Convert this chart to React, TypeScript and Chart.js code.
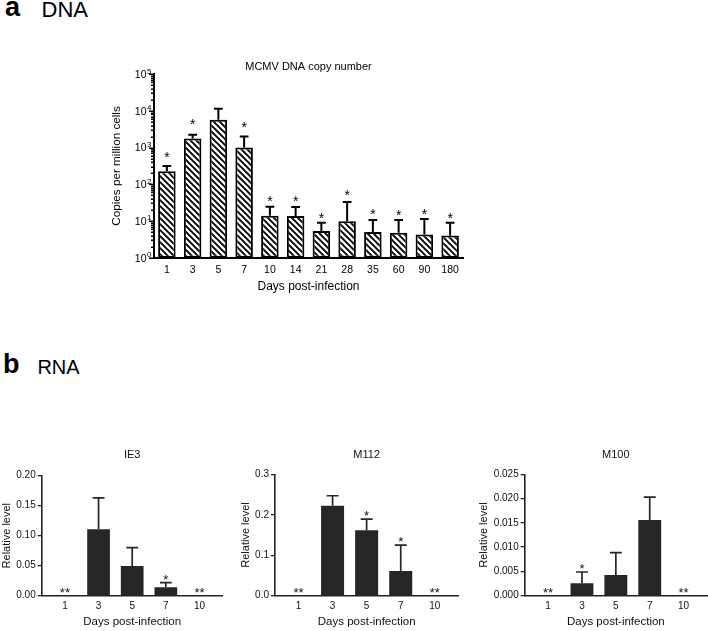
import React, { useEffect, useRef } from 'react';
import { Chart, registerables } from 'chart.js';

Chart.register(...registerables);

const FONT = '"Liberation Sans", Arial, Helvetica, sans-serif';

// ---------- Panel a: DNA ----------
const dnaTitle = 'MCMV DNA copy number';
const dnaDays = ['1', '3', '5', '7', '10', '14', '21', '28', '35', '60', '90', '180'];
const dnaMean = [227, 1760, 5750, 1000, 13.8, 13.6, 5.3, 9.8, 5.0, 4.8, 4.3, 4.0];
const dnaErrTop = [316, 2250, 11500, 2000, 24.3, 24, 8.9, 33, 10.6, 10.6, 11.3, 8.9];
const dnaStars = ['*', '*', '', '*', '*', '*', '*', '*', '*', '*', '*', '*'];
const dnaStarLevel = [687, 5280, 0, 4490, 41, 41, 14.5, 62, 18.6, 17.8, 18.6, 14.5];
const dnaYTicks = [1, 10, 100, 1000, 10000, 100000];
const dnaYTickBase = '10';
const dnaYTickExp = ['0', '1', '2', '3', '4', '5'];

// ---------- Panel b: RNA ----------
const rnaDays = ['1', '3', '5', '7', '10'];

const ie3Mean = [0, 0.1107, 0.0495, 0.014, 0];
const ie3ErrTop = [0, 0.163, 0.08, 0.0217, 0];
const ie3Stars = ['**', '', '', '*', '**'];
const ie3Ticks = [0, 0.05, 0.1, 0.15, 0.2];
const ie3TickLabels = ['0.00', '0.05', '0.10', '0.15', '0.20'];

const m112Mean = [0, 0.222, 0.1615, 0.061, 0];
const m112ErrTop = [0, 0.247, 0.189, 0.125, 0];
const m112Stars = ['**', '', '*', '*', '**'];
const m112Ticks = [0, 0.1, 0.2, 0.3];
const m112TickLabels = ['0.0', '0.1', '0.2', '0.3'];

const m100Mean = [0, 0.00255, 0.00426, 0.0156, 0];
const m100ErrTop = [0, 0.00488, 0.00886, 0.0203, 0];
const m100Stars = ['**', '*', '', '', '**'];
const m100Ticks = [0, 0.005, 0.01, 0.015, 0.02, 0.025];
const m100TickLabels = ['0.000', '0.005', '0.010', '0.015', '0.020', '0.025'];

function makePattern(): CanvasPattern | string {
  const s = 6;
  const c = document.createElement('canvas');
  c.width = s;
  c.height = s;
  const g = c.getContext('2d');
  if (!g) return '#fff';
  g.fillStyle = '#fff';
  g.fillRect(0, 0, s, s);
  g.strokeStyle = '#000';
  g.lineWidth = 1.9;
  g.beginPath();
  g.moveTo(-1, -1);
  g.lineTo(s + 1, s + 1);
  g.moveTo(-1, s - 1);
  g.lineTo(1, s + 1);
  g.moveTo(s - 1, -1);
  g.lineTo(s + 1, 1);
  g.stroke();
  const p = g.createPattern(c, 'repeat');
  return p || '#fff';
}

function makeDna(canvas: HTMLCanvasElement) {
  const decor = {
    id: 'dnaDecor',
    afterDatasetsDraw(chart: any) {
      const ctx = chart.ctx as CanvasRenderingContext2D;
      const y = chart.scales.y;
      const meta = chart.getDatasetMeta(0);
      ctx.save();
      ctx.strokeStyle = '#000';
      ctx.lineWidth = 2;
      meta.data.forEach((bar: any, i: number) => {
        const cx = bar.x;
        const w = bar.width;
        const yTop = y.getPixelForValue(dnaErrTop[i]);
        ctx.beginPath();
        ctx.moveTo(cx, bar.y);
        ctx.lineTo(cx, yTop);
        ctx.moveTo(cx - w * 0.25, yTop);
        ctx.lineTo(cx + w * 0.25, yTop);
        ctx.stroke();
        if (dnaStars[i]) {
          const fs = 14;
          ctx.fillStyle = '#000';
          ctx.font = `${fs}px ${FONT}`;
          ctx.textAlign = 'center';
          ctx.textBaseline = 'alphabetic';
          ctx.fillText(dnaStars[i], cx, y.getPixelForValue(dnaStarLevel[i]) + 0.57 * fs);
        }
      });
      ctx.restore();
    },
    afterDraw(chart: any) {
      const ctx = chart.ctx as CanvasRenderingContext2D;
      const y = chart.scales.y;
      const area = chart.chartArea;
      ctx.save();
      // major and minor tick marks on the log axis
      ctx.strokeStyle = '#000';
      ctx.lineWidth = 1.5;
      for (let e = 0; e < dnaYTicks.length; e++) {
        const base = dnaYTicks[e];
        const steps = e === dnaYTicks.length - 1 ? 1 : 9;
        for (let m = 1; m <= steps; m++) {
          const py = Math.round(y.getPixelForValue(base * m)) + 0.25;
          const len = m === 1 ? 4 : 2;
          ctx.beginPath();
          ctx.moveTo(area.left - len - 1, py);
          ctx.lineTo(area.left, py);
          ctx.stroke();
        }
      }
      // tick labels 10 with superscript exponents
      ctx.fillStyle = '#000';
      ctx.textBaseline = 'alphabetic';
      ctx.textAlign = 'left';
      const right = area.left - 2.5;
      dnaYTicks.forEach((v, i) => {
        const py = y.getPixelForValue(v);
        ctx.font = `8px ${FONT}`;
        const ew = ctx.measureText(dnaYTickExp[i]).width;
        ctx.font = `10.5px ${FONT}`;
        const bw = ctx.measureText(dnaYTickBase).width;
        const x0 = right - ew - 0.5 - bw;
        ctx.fillText(dnaYTickBase, x0, py + 3.8);
        ctx.font = `8px ${FONT}`;
        ctx.fillText(dnaYTickExp[i], x0 + bw + 0.5, py - 0.6);
      });
      // chart title
      ctx.font = `11px ${FONT}`;
      ctx.textAlign = 'center';
      ctx.textBaseline = 'middle';
      ctx.fillText(dnaTitle, (area.left + area.right) / 2, 26.7);
      ctx.restore();
    },
  };

  return new Chart(canvas, {
    type: 'bar',
    data: {
      labels: dnaDays,
      datasets: [
        {
          data: dnaMean,
          backgroundColor: makePattern() as any,
          borderColor: '#000',
          borderWidth: 2,
          borderSkipped: false,
          barPercentage: 0.68,
          categoryPercentage: 1,
        },
      ],
    },
    options: {
      animation: false,
      responsive: false,
      devicePixelRatio: 1,
      layout: { padding: { left: 0, right: 37, top: 34.2, bottom: 0 } },
      plugins: { legend: { display: false }, tooltip: { enabled: false }, title: { display: false } },
      scales: {
        x: {
          type: 'category',
          offset: true,
          grid: { display: false, drawTicks: false },
          border: { display: true, color: '#000', width: 2 },
          ticks: {
            color: '#000',
            font: { family: FONT, size: 10.5 },
            padding: 6,
            autoSkip: false,
            maxRotation: 0,
          },
          title: {
            display: true,
            text: 'Days post-infection',
            color: '#000',
            font: { family: FONT, size: 12 },
            padding: { top: 0, bottom: 16.5 },
          },
          afterFit: (s: any) => {
            s.height = 52.3;
          },
        },
        y: {
          type: 'logarithmic',
          min: 1,
          max: 100000,
          grid: { display: false, drawTicks: false },
          border: { display: true, color: '#000', width: 2 },
          afterBuildTicks: (s: any) => {
            s.ticks = dnaYTicks.map((v) => ({ value: v, major: true }));
          },
          ticks: { display: false },
          title: {
            display: true,
            text: 'Copies per million cells',
            color: '#000',
            font: { family: FONT, size: 11.7 },
            padding: { top: 109.7, bottom: 0 },
          },
          afterFit: (s: any) => {
            s.width = 154;
          },
        },
      },
    },
    plugins: [decor as any],
  });
}

interface RnaCfg {
  title: string;
  mean: number[];
  errTop: number[];
  stars: string[];
  ticks: number[];
  tickLabels: string[];
  axisLeft: number;
  padRight: number;
  padTop: number;
  yTitlePad: number;
}

function makeRna(canvas: HTMLCanvasElement, cfg: RnaCfg) {
  const barColor = '#262626';
  const decor = {
    id: 'rnaDecor',
    afterDatasetsDraw(chart: any) {
      const ctx = chart.ctx as CanvasRenderingContext2D;
      const y = chart.scales.y;
      const meta = chart.getDatasetMeta(0);
      ctx.save();
      ctx.strokeStyle = barColor;
      ctx.lineWidth = 1.7;
      meta.data.forEach((bar: any, i: number) => {
        const cx = bar.x;
        const w = bar.width;
        const yTop = y.getPixelForValue(cfg.errTop[i]);
        if (cfg.errTop[i] > cfg.mean[i]) {
          ctx.beginPath();
          ctx.moveTo(cx, bar.y);
          ctx.lineTo(cx, yTop);
          ctx.moveTo(cx - w * 0.26, yTop);
          ctx.lineTo(cx + w * 0.26, yTop);
          ctx.stroke();
        }
        if (cfg.stars[i]) {
          const fs = 13;
          ctx.fillStyle = '#111';
          ctx.font = `${fs}px ${FONT}`;
          ctx.textAlign = 'center';
          ctx.textBaseline = 'alphabetic';
          ctx.fillText(cfg.stars[i], cx, yTop + 1);
        }
      });
      ctx.restore();
    },
    afterDraw(chart: any) {
      const ctx = chart.ctx as CanvasRenderingContext2D;
      const area = chart.chartArea;
      ctx.save();
      ctx.fillStyle = '#111';
      ctx.font = `11px ${FONT}`;
      ctx.textAlign = 'center';
      ctx.textBaseline = 'middle';
      ctx.fillText(cfg.title, (area.left + area.right) / 2, 15);
      ctx.restore();
    },
  };

  const margin = 0.69;
  return new Chart(canvas, {
    type: 'bar',
    data: {
      datasets: [
        {
          data: cfg.mean.map((v, i) => ({ x: i, y: v })),
          backgroundColor: barColor,
          borderWidth: 0,
          barPercentage: 0.675,
          categoryPercentage: 1,
        },
      ],
    },
    options: {
      animation: false,
      responsive: false,
      devicePixelRatio: 1,
      layout: { padding: { left: 0, right: cfg.padRight, top: cfg.padTop, bottom: 0 } },
      plugins: { legend: { display: false }, tooltip: { enabled: false }, title: { display: false } },
      scales: {
        x: {
          type: 'linear',
          min: -margin,
          max: rnaDays.length - 1 + margin,
          offset: false,
          grid: { display: false, drawTicks: false },
          border: { display: true, color: '#222', width: 1.6 },
          afterBuildTicks: (s: any) => {
            s.ticks = rnaDays.map((_d, i) => ({ value: i }));
          },
          ticks: {
            color: '#111',
            font: { family: FONT, size: 10 },
            padding: 4.8,
            autoSkip: false,
            maxRotation: 0,
            callback: (_v: any, i: number) => rnaDays[i],
          },
          title: {
            display: true,
            text: 'Days post-infection',
            color: '#111',
            font: { family: FONT, size: 11.5 },
            padding: { top: 0, bottom: 1.8 },
          },
          afterFit: (s: any) => {
            s.height = 35.3;
          },
        },
        y: {
          type: 'linear',
          min: 0,
          max: cfg.ticks[cfg.ticks.length - 1],
          grid: {
            display: true,
            drawOnChartArea: false,
            drawTicks: true,
            tickLength: 4,
            color: '#222',
            lineWidth: 1.3,
          },
          border: { display: true, color: '#222', width: 1.6 },
          afterBuildTicks: (s: any) => {
            s.ticks = cfg.ticks.map((v) => ({ value: v }));
          },
          ticks: {
            color: '#111',
            font: { family: FONT, size: 10 },
            padding: 2,
            autoSkip: false,
            callback: (_v: any, i: number) => cfg.tickLabels[i],
          },
          title: {
            display: true,
            text: 'Relative level',
            color: '#111',
            font: { family: FONT, size: 11 },
            padding: { top: cfg.yTitlePad, bottom: 0 },
          },
          afterFit: (s: any) => {
            s.width = cfg.axisLeft;
          },
        },
      },
    },
    plugins: [decor as any],
  });
}

const canvasStyle = (left: number, top: number, w: number, h: number): React.CSSProperties => ({
  position: 'absolute',
  left,
  top,
  width: w,
  height: h,
  display: 'block',
});

export default function App() {
  const refA = useRef<HTMLCanvasElement>(null);
  const refB1 = useRef<HTMLCanvasElement>(null);
  const refB2 = useRef<HTMLCanvasElement>(null);
  const refB3 = useRef<HTMLCanvasElement>(null);

  useEffect(() => {
    const charts: Chart[] = [];
    if (refA.current) charts.push(makeDna(refA.current));
    if (refB1.current)
      charts.push(
        makeRna(refB1.current, {
          title: 'IE3',
          mean: ie3Mean,
          errTop: ie3ErrTop,
          stars: ie3Stars,
          ticks: ie3Ticks,
          tickLabels: ie3TickLabels,
          axisLeft: 41.7,
          padRight: 13.3,
          padTop: 35.7,
          yTitlePad: 0,
        })
      );
    if (refB2.current)
      charts.push(
        makeRna(refB2.current, {
          title: 'M112',
          mean: m112Mean,
          errTop: m112ErrTop,
          stars: m112Stars,
          ticks: m112Ticks,
          tickLabels: m112TickLabels,
          axisLeft: 39,
          padRight: 13.7,
          padTop: 34.3,
          yTitlePad: 3.4,
        })
      );
    if (refB3.current)
      charts.push(
        makeRna(refB3.current, {
          title: 'M100',
          mean: m100Mean,
          errTop: m100ErrTop,
          stars: m100Stars,
          ticks: m100Ticks,
          tickLabels: m100TickLabels,
          axisLeft: 52.7,
          padRight: 1,
          padTop: 34.3,
          yTitlePad: 5.4,
        })
      );
    return () => charts.forEach((c) => c.destroy());
  }, []);

  const label = (left: number, top: number, size: number, bold: boolean, text: string) => (
    <div
      style={{
        position: 'absolute',
        left,
        top,
        fontSize: size,
        lineHeight: `${size}px`,
        fontWeight: bold ? 700 : 400,
        fontFamily: FONT,
        color: '#000',
        whiteSpace: 'nowrap',
      }}
    >
      {text}
    </div>
  );

  return (
    <div
      style={{
        position: 'absolute',
        left: 0,
        top: 0,
        width: 708,
        height: 631,
        background: '#fff',
        overflow: 'hidden',
      }}
    >
      {label(5, -5.6, 27, true, 'a')}
      {label(41.6, -1.3, 22, false, 'DNA')}
      {label(3, 351.1, 27, true, 'b')}
      {label(37.4, 357.1, 20, false, 'RNA')}
      <canvas ref={refA} width={500} height={270} style={canvasStyle(0, 40, 500, 270)} />
      <canvas ref={refB1} width={236} height={191} style={canvasStyle(0, 440, 236, 191)} />
      <canvas ref={refB2} width={236} height={191} style={canvasStyle(236, 440, 236, 191)} />
      <canvas ref={refB3} width={236} height={191} style={canvasStyle(472, 440, 236, 191)} />
    </div>
  );
}
